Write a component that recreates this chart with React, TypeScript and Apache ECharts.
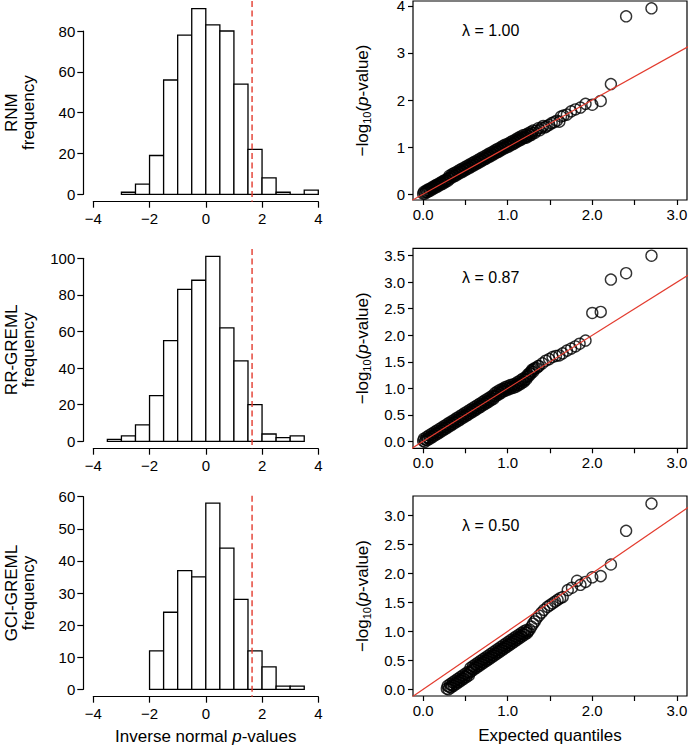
import React, { useEffect, useRef } from "react";
import * as echarts from "echarts";

// ---------- data ----------
const binWidth = 0.5;
const threshold = 1.645;

const rnmBinStart = -3;
const rnmCounts = [1, 5, 19, 56, 78, 91, 83, 80, 54, 22, 8, 1, 0, 2];
const rrBinStart = -3.5;
const rrCounts = [1, 3, 9, 25, 55, 83, 88, 101, 62, 44, 20, 4, 2, 3];
const gciBinStart = -2;
const gciCounts = [12, 24, 37, 35, 58, 44, 28, 12, 7, 1, 1];

const histLabels = ["RNM\nfrequency", "RR-GREML\nfrequency", "GCI-GREML\nfrequency"];
const histYMax = [80, 100, 60];
const histYInterval = [20, 20, 10];

const lambdas = ["1.00", "0.87", "0.50"];

const qqXTicks = [0, 0.5, 1, 1.5, 2, 2.5, 3];
const qqXLabels = [0, 1, 2, 3];
const qqYTicks1 = [0, 1, 2, 3, 4];
const qqYTicks2 = [0, 0.5, 1, 1.5, 2, 2.5, 3, 3.5];
const qqYTicks3 = [0, 0.5, 1, 1.5, 2, 2.5, 3];

// RNM: expected quantile, observed -log10(p)
const rnmQQ: [number, number][] = [
  [0.0, 0.01], [0.01, 0.05], [0.02, 0.01], [0.03, 0.05], [0.04, 0.08], [0.05, 0.04], [0.06, 0.08],
  [0.07, 0.11], [0.08, 0.07], [0.09, 0.11], [0.1, 0.14], [0.11, 0.1], [0.12, 0.14], [0.13, 0.17],
  [0.14, 0.13], [0.15, 0.17], [0.16, 0.2], [0.17, 0.16], [0.18, 0.2], [0.19, 0.23], [0.2, 0.19],
  [0.21, 0.23], [0.22, 0.26], [0.23, 0.22], [0.24, 0.26], [0.25, 0.29], [0.26, 0.25], [0.27, 0.29],
  [0.28, 0.32], [0.29, 0.28], [0.3, 0.34], [0.31, 0.39], [0.32, 0.33], [0.33, 0.37], [0.34, 0.42],
  [0.35, 0.36], [0.36, 0.4], [0.37, 0.45], [0.38, 0.39], [0.39, 0.43], [0.4, 0.48], [0.41, 0.42],
  [0.42, 0.46], [0.43, 0.51], [0.44, 0.45], [0.45, 0.49], [0.46, 0.54], [0.47, 0.48], [0.48, 0.52],
  [0.49, 0.57], [0.5, 0.51], [0.51, 0.55], [0.52, 0.6], [0.53, 0.54], [0.54, 0.58], [0.55, 0.63],
  [0.56, 0.57], [0.57, 0.61], [0.58, 0.66], [0.59, 0.6], [0.6, 0.64], [0.61, 0.69], [0.62, 0.63],
  [0.63, 0.67], [0.64, 0.72], [0.65, 0.66], [0.66, 0.7], [0.67, 0.75], [0.68, 0.69], [0.69, 0.73],
  [0.7, 0.78], [0.71, 0.72], [0.72, 0.76], [0.73, 0.81], [0.74, 0.75], [0.75, 0.79], [0.76, 0.84],
  [0.77, 0.78], [0.78, 0.82], [0.79, 0.87], [0.8, 0.81], [0.81, 0.85], [0.82, 0.9], [0.83, 0.84],
  [0.84, 0.88], [0.85, 0.93], [0.86, 0.87], [0.87, 0.91], [0.88, 0.96], [0.89, 0.9], [0.9, 0.94],
  [0.91, 0.99], [0.92, 0.93], [0.93, 0.97], [0.94, 1.02], [0.95, 0.96], [0.96, 1.0], [0.97, 1.05],
  [0.98, 0.99], [0.99, 1.03], [1.0, 1.07], [1.01, 1.01], [1.02, 1.05], [1.03, 1.1], [1.04, 1.04],
  [1.05, 1.08], [1.06, 1.13], [1.07, 1.07], [1.08, 1.11], [1.09, 1.16], [1.1, 1.1], [1.11, 1.14],
  [1.12, 1.19], [1.13, 1.13], [1.14, 1.17], [1.15, 1.22], [1.16, 1.16], [1.17, 1.2], [1.18, 1.25],
  [1.19, 1.19], [1.2, 1.21], [1.21, 1.26], [1.22, 1.2], [1.23, 1.24], [1.24, 1.29], [1.25, 1.23],
  [1.26, 1.27], [1.27, 1.32], [1.28, 1.26], [1.29, 1.3], [1.3, 1.35], [1.32, 1.3], [1.34, 1.35],
  [1.36, 1.4], [1.38, 1.36], [1.4, 1.41], [1.42, 1.45], [1.44, 1.42], [1.46, 1.44], [1.49, 1.47],
  [1.52, 1.51], [1.55, 1.53], [1.58, 1.56], [1.61, 1.54], [1.63, 1.65], [1.66, 1.67], [1.7, 1.69],
  [1.75, 1.76], [1.8, 1.8], [1.86, 1.84], [1.92, 1.92], [2.0, 1.9], [2.1, 1.98], [2.22, 2.34],
  [2.4, 3.78], [2.7, 3.95],
];

// RR-GREML
const rrQQ: [number, number][] = [
  [0.0, 0.01], [0.01, 0.05], [0.02, -0.01], [0.03, 0.03], [0.04, 0.08], [0.05, 0.02], [0.06, 0.06],
  [0.07, 0.11], [0.08, 0.05], [0.09, 0.09], [0.1, 0.14], [0.11, 0.08], [0.12, 0.12], [0.13, 0.17],
  [0.14, 0.11], [0.15, 0.15], [0.16, 0.2], [0.17, 0.14], [0.18, 0.18], [0.19, 0.23], [0.2, 0.17],
  [0.21, 0.21], [0.22, 0.26], [0.23, 0.2], [0.24, 0.24], [0.25, 0.29], [0.26, 0.23], [0.27, 0.27],
  [0.28, 0.32], [0.29, 0.26], [0.3, 0.3], [0.31, 0.35], [0.32, 0.29], [0.33, 0.33], [0.34, 0.38],
  [0.35, 0.32], [0.36, 0.36], [0.37, 0.41], [0.38, 0.35], [0.39, 0.39], [0.4, 0.44], [0.41, 0.38],
  [0.42, 0.42], [0.43, 0.47], [0.44, 0.41], [0.45, 0.45], [0.46, 0.5], [0.47, 0.44], [0.48, 0.48],
  [0.49, 0.53], [0.5, 0.47], [0.51, 0.51], [0.52, 0.56], [0.53, 0.5], [0.54, 0.54], [0.55, 0.59],
  [0.56, 0.53], [0.57, 0.57], [0.58, 0.62], [0.59, 0.56], [0.6, 0.6], [0.61, 0.65], [0.62, 0.59],
  [0.63, 0.63], [0.64, 0.68], [0.65, 0.62], [0.66, 0.66], [0.67, 0.71], [0.68, 0.65], [0.69, 0.69],
  [0.7, 0.74], [0.71, 0.68], [0.72, 0.72], [0.73, 0.77], [0.74, 0.71], [0.75, 0.75], [0.76, 0.8],
  [0.77, 0.74], [0.78, 0.78], [0.79, 0.83], [0.8, 0.77], [0.81, 0.81], [0.82, 0.86], [0.83, 0.8],
  [0.84, 0.85], [0.85, 0.91], [0.86, 0.85], [0.87, 0.89], [0.88, 0.94], [0.89, 0.88], [0.9, 0.92],
  [0.91, 0.97], [0.92, 0.91], [0.93, 0.95], [0.94, 0.99], [0.95, 0.94], [0.96, 0.98], [0.97, 1.02],
  [0.98, 0.96], [0.99, 1.0], [1.0, 1.04], [1.01, 0.98], [1.02, 1.02], [1.03, 1.06], [1.04, 1.0],
  [1.05, 1.03], [1.06, 1.07], [1.07, 1.01], [1.08, 1.05], [1.09, 1.09], [1.1, 1.03], [1.11, 1.07],
  [1.12, 1.12], [1.13, 1.06], [1.14, 1.1], [1.15, 1.15], [1.16, 1.09], [1.17, 1.13], [1.18, 1.18],
  [1.19, 1.12], [1.2, 1.16], [1.21, 1.21], [1.22, 1.17], [1.23, 1.22], [1.24, 1.26], [1.25, 1.23],
  [1.26, 1.29], [1.27, 1.27], [1.28, 1.32], [1.29, 1.35], [1.3, 1.31], [1.31, 1.36], [1.32, 1.38],
  [1.34, 1.38], [1.36, 1.42], [1.37, 1.42], [1.41, 1.47], [1.45, 1.52], [1.49, 1.55], [1.53, 1.59],
  [1.57, 1.61], [1.61, 1.62], [1.65, 1.66], [1.7, 1.71], [1.75, 1.75], [1.8, 1.79], [1.85, 1.84],
  [1.92, 1.9], [2.0, 2.42], [2.1, 2.44], [2.22, 3.05], [2.4, 3.17], [2.7, 3.5],
];

// GCI-GREML
const gciQQ: [number, number][] = [
  [0.28, 0.01], [0.29, 0.06], [0.3, 0.0], [0.31, 0.04], [0.32, 0.09], [0.33, 0.03], [0.34, 0.07],
  [0.35, 0.12], [0.36, 0.06], [0.37, 0.1], [0.38, 0.15], [0.39, 0.09], [0.4, 0.13], [0.41, 0.18],
  [0.42, 0.12], [0.43, 0.16], [0.44, 0.21], [0.45, 0.15], [0.46, 0.19], [0.47, 0.24], [0.48, 0.18],
  [0.49, 0.22], [0.5, 0.27], [0.51, 0.21], [0.52, 0.25], [0.53, 0.3], [0.54, 0.24], [0.55, 0.29],
  [0.56, 0.37], [0.57, 0.31], [0.58, 0.35], [0.59, 0.4], [0.6, 0.34], [0.61, 0.38], [0.62, 0.43],
  [0.63, 0.37], [0.64, 0.41], [0.65, 0.46], [0.66, 0.4], [0.67, 0.44], [0.68, 0.49], [0.69, 0.43],
  [0.7, 0.47], [0.71, 0.52], [0.72, 0.46], [0.73, 0.5], [0.74, 0.55], [0.75, 0.49], [0.76, 0.53],
  [0.77, 0.58], [0.78, 0.52], [0.79, 0.56], [0.8, 0.61], [0.81, 0.55], [0.82, 0.59], [0.83, 0.64],
  [0.84, 0.58], [0.85, 0.62], [0.86, 0.67], [0.87, 0.61], [0.88, 0.65], [0.89, 0.7], [0.9, 0.64],
  [0.91, 0.68], [0.92, 0.73], [0.93, 0.67], [0.94, 0.71], [0.95, 0.76], [0.96, 0.7], [0.97, 0.74],
  [0.98, 0.79], [0.99, 0.73], [1.0, 0.77], [1.01, 0.82], [1.02, 0.76], [1.03, 0.8], [1.04, 0.85],
  [1.05, 0.79], [1.06, 0.83], [1.07, 0.88], [1.08, 0.82], [1.09, 0.86], [1.1, 0.91], [1.11, 0.85],
  [1.12, 0.89], [1.13, 0.94], [1.14, 0.88], [1.15, 0.92], [1.16, 0.97], [1.17, 0.91], [1.18, 0.95],
  [1.19, 1.0], [1.2, 0.94], [1.21, 0.98], [1.22, 1.02], [1.23, 0.97], [1.24, 1.0], [1.26, 1.03],
  [1.28, 1.08], [1.3, 1.13], [1.32, 1.17], [1.34, 1.22], [1.37, 1.27], [1.4, 1.32], [1.43, 1.37],
  [1.47, 1.42], [1.5, 1.45], [1.53, 1.48], [1.56, 1.51], [1.59, 1.54], [1.62, 1.57], [1.65, 1.59],
  [1.71, 1.71], [1.76, 1.75], [1.82, 1.87], [1.86, 1.8], [1.92, 1.85], [2.0, 1.93], [2.1, 1.95],
  [2.22, 2.15], [2.4, 2.73], [2.7, 3.2],
];

// ---------- layout / style ----------
const FONT = '"Liberation Sans", Arial, Helvetica, sans-serif';
const RED = "#e33b2e";
const lineStyle = { color: "#000", width: 1.2 };

const histLayout = [
  { top: 31, height: 163.3 },
  { top: 258.3, height: 183 },
  { top: 496.7, height: 192.6 },
];
const qqLayout = [
  { top: 1, height: 199, min: -0.125, max: 4.105, yTicks: qqYTicks1, dec: 0, lamY: 30 },
  { top: 248.3, height: 200, min: -0.132, max: 3.64, yTicks: qqYTicks2, dec: 1, lamY: 277 },
  { top: 496, height: 200, min: -0.115, max: 3.33, yTicks: qqYTicks3, dec: 1, lamY: 525 },
];

const fmtMinus = (v: number) => (v < 0 ? "\u2212" + Math.abs(v) : String(v));

function buildOption() {
  const grid: any[] = [];
  const xAxis: any[] = [];
  const yAxis: any[] = [];
  const series: any[] = [];
  const graphic: any[] = [];

  const hists = [
    { start: rnmBinStart, counts: rnmCounts },
    { start: rrBinStart, counts: rrCounts },
    { start: gciBinStart, counts: gciCounts },
  ];

  const nameStyle = {
    fontSize: 17,
    color: "#000",
    fontFamily: FONT,
    lineHeight: 19,
    rich: {
      i: { fontStyle: "italic", fontSize: 17, color: "#000", fontFamily: FONT },
      s: { fontSize: 11, color: "#000", fontFamily: FONT, verticalAlign: "bottom", lineHeight: 12 },
    },
  };
  const labelStyle = { fontSize: 15, color: "#000", fontFamily: FONT };

  hists.forEach((h, i) => {
    const L = histLayout[i];
    grid.push({ left: 93.3, width: 225, top: L.top, height: L.height, show: false, containLabel: false, outerBoundsMode: "none" });
    xAxis.push({
      gridIndex: i,
      type: "value",
      min: -4,
      max: 4,
      interval: 2,
      offset: 7.4,
      axisLine: { show: true, onZero: false, lineStyle },
      axisTick: { show: true, length: 6, lineStyle },
      axisLabel: { ...labelStyle, margin: 9, formatter: fmtMinus },
      splitLine: { show: false },
      name: i === 2 ? "Inverse normal {i|p}-values" : "",
      nameLocation: "middle",
      nameGap: 30,
      nameTextStyle: nameStyle,
    });
    yAxis.push({
      gridIndex: i,
      type: "value",
      min: 0,
      max: histYMax[i],
      interval: histYInterval[i],
      offset: 10,
      axisLine: { show: true, onZero: false, lineStyle },
      axisTick: { show: true, length: 6, lineStyle },
      axisLabel: { ...labelStyle, margin: 8 },
      splitLine: { show: false },
      name: histLabels[i],
      nameLocation: "middle",
      nameGap: 46,
      nameTextStyle: { ...nameStyle, lineHeight: 17 },
    });
    const data = h.counts.map((c, k) => [h.start + k * binWidth, h.start + (k + 1) * binWidth, c]);
    series.push({
      type: "custom",
      xAxisIndex: i,
      yAxisIndex: i,
      clip: false,
      silent: true,
      encode: { x: [0, 1], y: 2 },
      data,
      renderItem: (_p: any, api: any) => {
        const a = api.coord([api.value(0), api.value(2)]);
        const b = api.coord([api.value(1), 0]);
        return {
          type: "rect",
          shape: { x: a[0], y: a[1], width: b[0] - a[0], height: b[1] - a[1] },
          style: { fill: "#fff", stroke: "#000", lineWidth: 1.3 },
        };
      },
      z: 2,
    });
    const maxC = Math.max(...h.counts);
    series.push({
      type: "custom",
      xAxisIndex: i,
      yAxisIndex: i,
      clip: false,
      silent: true,
      encode: { x: 0, y: 1 },
      data: [[threshold, 0]],
      renderItem: (_p: any, api: any) => {
        const t = api.coord([api.value(0), maxC * 1.04]);
        const b = api.coord([api.value(0), -maxC * 0.04]);
        return {
          type: "line",
          shape: { x1: t[0], y1: t[1], x2: b[0], y2: b[1] },
          style: { stroke: RED, lineWidth: 1.4, lineDash: [6, 3.5] },
        };
      },
      z: 3,
    });
  });

  const qqData = [rnmQQ, rrQQ, gciQQ];
  qqLayout.forEach((Q, j) => {
    const gi = 3 + j;
    grid.push({
      left: 413,
      width: 274,
      top: Q.top,
      height: Q.height,
      show: true,
      borderColor: "#000",
      borderWidth: 1.2,
      backgroundColor: "transparent",
      containLabel: false,
      outerBoundsMode: "none",
    });
    xAxis.push({
      gridIndex: gi,
      type: "value",
      min: -0.12,
      max: 3.12,
      axisLine: { show: false, onZero: false },
      axisTick: { show: true, length: 5, lineStyle, customValues: qqXTicks },
      axisLabel: { ...labelStyle, margin: 7, customValues: qqXLabels, formatter: (v: number) => v.toFixed(1) },
      splitLine: { show: false },
      name: j === 2 ? "Expected quantiles" : "",
      nameLocation: "middle",
      nameGap: 30,
      nameTextStyle: nameStyle,
    });
    yAxis.push({
      gridIndex: gi,
      type: "value",
      min: Q.min,
      max: Q.max,
      axisLine: { show: false, onZero: false },
      axisTick: { show: true, length: 5, lineStyle, customValues: Q.yTicks },
      axisLabel: {
        ...labelStyle,
        lineHeight: 12,
        margin: 8,
        customValues: Q.yTicks,
        formatter: (v: number) => v.toFixed(Q.dec),
      },
      splitLine: { show: false },
      name: "\u2212log{s|10}({i|p}-value)",
      nameLocation: "middle",
      nameGap: 41,
      nameTextStyle: nameStyle,
    });
    series.push({
      type: "scatter",
      xAxisIndex: gi,
      yAxisIndex: gi,
      silent: true,
      symbol: "circle",
      symbolSize: 11,
      itemStyle: { color: "rgba(0,0,0,0)", borderColor: "#000", borderWidth: 1.4 },
      data: qqData[j],
      z: 2,
    });
    series.push({
      type: "line",
      xAxisIndex: gi,
      yAxisIndex: gi,
      silent: true,
      showSymbol: false,
      symbol: "none",
      clip: true,
      lineStyle: { color: RED, width: 1.2 },
      data: [[-0.5, -0.5], [4, 4]],
      z: 5,
    });
    graphic.push({
      type: "text",
      x: 462,
      y: Q.lamY,
      style: {
        text: "\u03bb = " + lambdas[j],
        fontSize: 16,
        fontFamily: FONT,
        fill: "#000",
        verticalAlign: "middle",
        textVerticalAlign: "middle",
      },
    });
  });

  return {
    animation: false,
    backgroundColor: "#fff",
    grid,
    xAxis,
    yAxis,
    series,
    graphic,
  };
}

export default function App() {
  const ref = useRef<HTMLDivElement>(null);
  useEffect(() => {
    const chart = echarts.init(ref.current!, null, { renderer: "svg" });
    chart.setOption(buildOption() as any);
    return () => chart.dispose();
  }, []);
  return (
    <div
      ref={ref}
      style={{ position: "absolute", left: 0, top: 0, width: 688, height: 746 }}
    />
  );
}
